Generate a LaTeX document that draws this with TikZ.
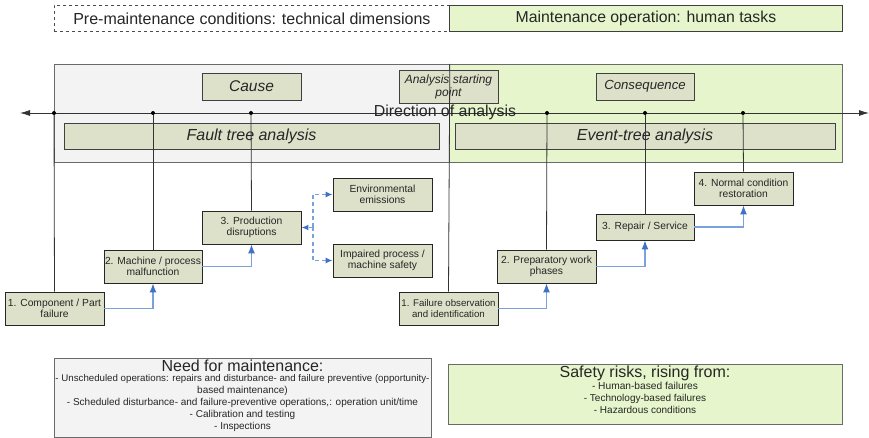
\documentclass[tikz,border=0pt]{standalone}
\usepackage{fontspec}
\setmainfont{Liberation Sans}
\usetikzlibrary{arrows.meta}
\definecolor{paleGreen}{HTML}{E6F5CB}
\definecolor{paleGray}{HTML}{F3F3F3}
\definecolor{boxFill}{HTML}{DDE1C9}
\definecolor{edgeGray}{HTML}{6A6A6A}
\definecolor{flowBlue}{HTML}{7BA0DA}
\definecolor{tipBlue}{HTML}{3F72C4}
\definecolor{txt}{HTML}{262626}
\tikzset{
  panel/.style={draw=edgeGray, line width=0.8pt, inner sep=0pt, anchor=north west},
  stepbox/.style={draw=black!85, fill=boxFill, line width=0.9pt, inner sep=1pt,
    minimum width=99pt, minimum height=33pt, align=center, text=txt,
    font=\fontsize{10.3}{11.5}\selectfont},
  labelbox/.style={draw=black!75, fill=boxFill, line width=0.8pt, inner sep=1pt,
    align=center, text=txt},
  flow/.style={draw=flowBlue, line width=1.2pt,
    -{Latex[length=9pt,width=7pt,color=tipBlue]}},
  sideflow/.style={flow, dash pattern=on 4pt off 3pt,
    -{Latex[length=7pt,width=6pt,color=tipBlue]}},
  tie/.style={draw=black!80, line width=0.8pt},
  dot/.style={circle, fill=black, inner sep=0pt, minimum size=4pt},
}
\begin{document}
\begin{tikzpicture}[x=1pt, y=-1pt]
\useasboundingbox (0,0) rectangle (869,438);

% header bands
\node[panel, draw=black!70, dashed, fill=white, minimum width=395pt, minimum height=26pt] (pre) at (54,5) {};
\node[text=txt, font=\fontsize{16}{18}\selectfont] (pretxt) at (pre.center) {Pre-maintenance conditions: technical dimensions};
\node[panel, draw=black!75, fill=paleGreen, minimum width=393pt, minimum height=26pt] (mop) at (449,5) {};
\node[text=txt, font=\fontsize{15.8}{18}\selectfont] (moptxt) at (mop.center) {Maintenance operation: human tasks};

% analysis panels
\node[panel, fill=paleGray, minimum width=395pt, minimum height=98pt] (lp) at (54,64) {};
\node[panel, fill=paleGreen, minimum width=393pt, minimum height=98pt] (rp) at (449,64) {};

\node[labelbox, minimum width=99pt, minimum height=27pt, font=\fontsize{15.5}{17}\itshape] (cause) at (251.5,86.5) {Cause};
\node[labelbox, minimum width=98pt, minimum height=27pt, font=\fontsize{13.2}{15}\itshape] (cons) at (645,86.5) {Consequence};
\node[labelbox, minimum width=375pt, minimum height=26pt, font=\fontsize{16}{18}\itshape] (fta) at (251.5,136) {Fault tree analysis};
\node[labelbox, minimum width=380pt, minimum height=26pt, font=\fontsize{16}{18}\itshape] (eta) at (645,136) {Event-tree analysis};

% direction of analysis axis
\coordinate (axL) at (20,113);
\coordinate (axR) at (869,113);
\draw[tie, {Latex[length=10pt,width=6pt]}-{Latex[length=10pt,width=6pt]}] (axL) -- (axR);
\node[labelbox, minimum width=99pt, minimum height=33pt, inner sep=0pt, font=\fontsize{12}{13}\itshape] (start) at (448.5,86.5) {Analysis starting\\point};
\node[text=txt, font=\fontsize{15.9}{18}\selectfont, inner sep=0pt] (dir) at (445,112) {Direction of analysis};

\foreach \n/\x in {d1/54, d2/153, d3/251, d4/547, d5/645, d6/743}
  \node[dot] (\n) at (\x,113) {};

% fault tree steps
\node[stepbox] (f1) at (54.5,308.5) {1. Component / Part\\failure};
\node[stepbox, minimum width=98pt] (f2) at (153,266.5) {2. Machine / process\\malfunction};
\node[stepbox] (f3) at (251.5,227.5) {3. Production\\disruptions};
\node[stepbox] (env) at (382.5,194.5) {Environmental\\emissions};
\node[stepbox] (imp) at (382.5,260.5) {Impaired process /\\machine safety};

% event tree steps
\node[stepbox, font=\fontsize{9.7}{11.5}\selectfont] (e1) at (448.5,308.5) {1. Failure observation\\and identification};
\node[stepbox] (e2) at (546.5,266.5) {2. Preparatory work\\phases};
\node[stepbox, minimum width=98pt, minimum height=26pt] (e3) at (645,227) {3. Repair / Service};
\node[stepbox] (e4) at (743.5,188.5) {4. Normal condition\\restoration};

% ties from the axis down to the steps
\draw[tie] (d1) -- (f1.north);
\draw[tie] (d2) -- (f2.north);
\draw[tie] (d3) -- (f3.north);
\draw[tie] (lp.north east) -- (e1.north);
\draw[tie] (d4) -- (e2.north);
\draw[tie] (d5) -- (e3.north);
\draw[tie] (d6) -- (e4.north);

% escalation flows
\draw[flow] (f1.east) -| (f2.south);
\draw[flow] (f2.east) -| (f3.south);
\coordinate (split) at (313,227.5);
\draw[sideflow] (split) -- (f3.east);
\draw[sideflow] (split) |- (env.west);
\draw[sideflow] (split) |- (imp.west);

\draw[flow] (e1.east) -| (e2.south);
\draw[flow] (e2.east) -| (e3.south);
\draw[flow] (e3.east) -| (e4.south);

% summary boxes
\node[panel, fill=paleGray, minimum width=377pt, minimum height=79pt] (need) at (54,358) {};
\node[align=center, text=txt, inner sep=0pt, anchor=north] (needtxt) at (242.5,360)
  {{\fontsize{16}{17}\selectfont Need for maintenance:}\\[-2pt]
   \fontsize{9.7}{11.3}\selectfont
   - Unscheduled operations: repairs and disturbance- and failure preventive (opportunity-\\
   based maintenance)\\
   - Scheduled disturbance- and failure-preventive operations,: operation unit/time\\
   - Calibration and testing\\
   - Inspections};

\node[panel, fill=paleGreen, minimum width=394pt, minimum height=60pt] (risk) at (448,364) {};
\node[align=center, text=txt, inner sep=0pt, anchor=north] (risktxt) at (645,366)
  {{\fontsize{16}{17}\selectfont Safety risks, rising from:}\\[0pt]
   \fontsize{10.2}{12.5}\selectfont
   - Human-based failures\\
   - Technology-based failures\\
   - Hazardous conditions};
\end{tikzpicture}
\end{document}
